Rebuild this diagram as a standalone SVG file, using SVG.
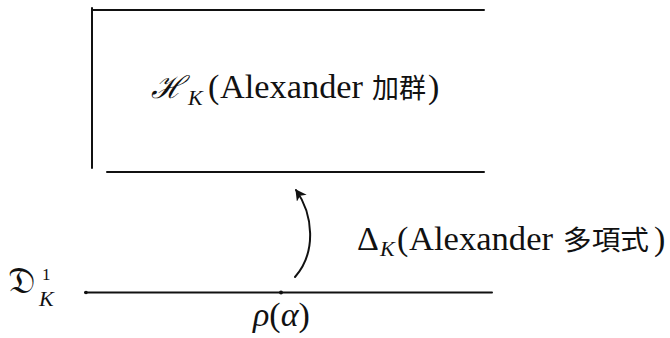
<svg xmlns="http://www.w3.org/2000/svg" width="670" height="338" viewBox="0 0 670 338">
<style>
.ln{stroke:#111;stroke-width:2;fill:none;stroke-linecap:round}
.t{font-family:'Liberation Serif','Times New Roman','Noto Serif','DejaVu Serif',serif;fill:#111;font-size:34px}
.it{font-style:italic}
.cjk{font-family:'Noto Sans CJK JP','Noto Sans CJK SC',sans-serif;font-size:27px}
.sub{font-size:22px;font-style:italic}
</style>
<defs>
<marker id="ah" viewBox="0 0 12 12" refX="10" refY="6" markerWidth="12" markerHeight="12" markerUnits="userSpaceOnUse" orient="auto">
<path d="M0,0 L11,6 L0,12 L3,6 Z" fill="#111"/>
</marker>
</defs>
<rect width="670" height="338" fill="#fff"/>
<g id="hk">
<path class="ln" d="M92,10 L484,10 M92,8 L92,168 M107,172 L484,172"/>
<text class="t" y="98"><tspan x="151" font-family="DejaVu Serif" font-style="italic" font-size="31">ℋ</tspan><tspan class="sub" x="188" y="105" font-size="20">K</tspan><tspan x="208" y="98">(</tspan><tspan x="220" textLength="143" lengthAdjust="spacingAndGlyphs">Alexander</tspan><tspan class="cjk" x="372">加群</tspan><tspan x="428">)</tspan></text>
</g>
<g id="dk">
<path class="ln" d="M85,292.5 L492,292.5"/>
<circle cx="86" cy="292.5" r="1.8" fill="#111"/>
<circle cx="281" cy="292.5" r="2" fill="#111"/>
<text class="t" y="293"><tspan x="8" font-family="DejaVu Serif" font-size="37">𝔇</tspan><tspan x="42" y="280" font-size="17">1</tspan><tspan class="sub" x="39" y="306" font-size="19">K</tspan></text>
<text class="t" x="253" y="326" font-size="30"><tspan class="it">ρ</tspan>(<tspan class="it">α</tspan>)</text>
</g>
<g id="connectors">
<path class="ln" d="M295,277 C317,252 313,214 296,190" marker-end="url(#ah)"/>
</g>
<g id="delta">
<text class="t" y="250"><tspan x="357">Δ</tspan><tspan class="sub" x="380" y="256">K</tspan><tspan x="397" y="250">(</tspan><tspan x="409" textLength="144" lengthAdjust="spacingAndGlyphs">Alexander</tspan><tspan class="cjk" x="563" textLength="86" lengthAdjust="spacingAndGlyphs">多項式</tspan><tspan x="654">)</tspan></text>
</g>
</svg>
